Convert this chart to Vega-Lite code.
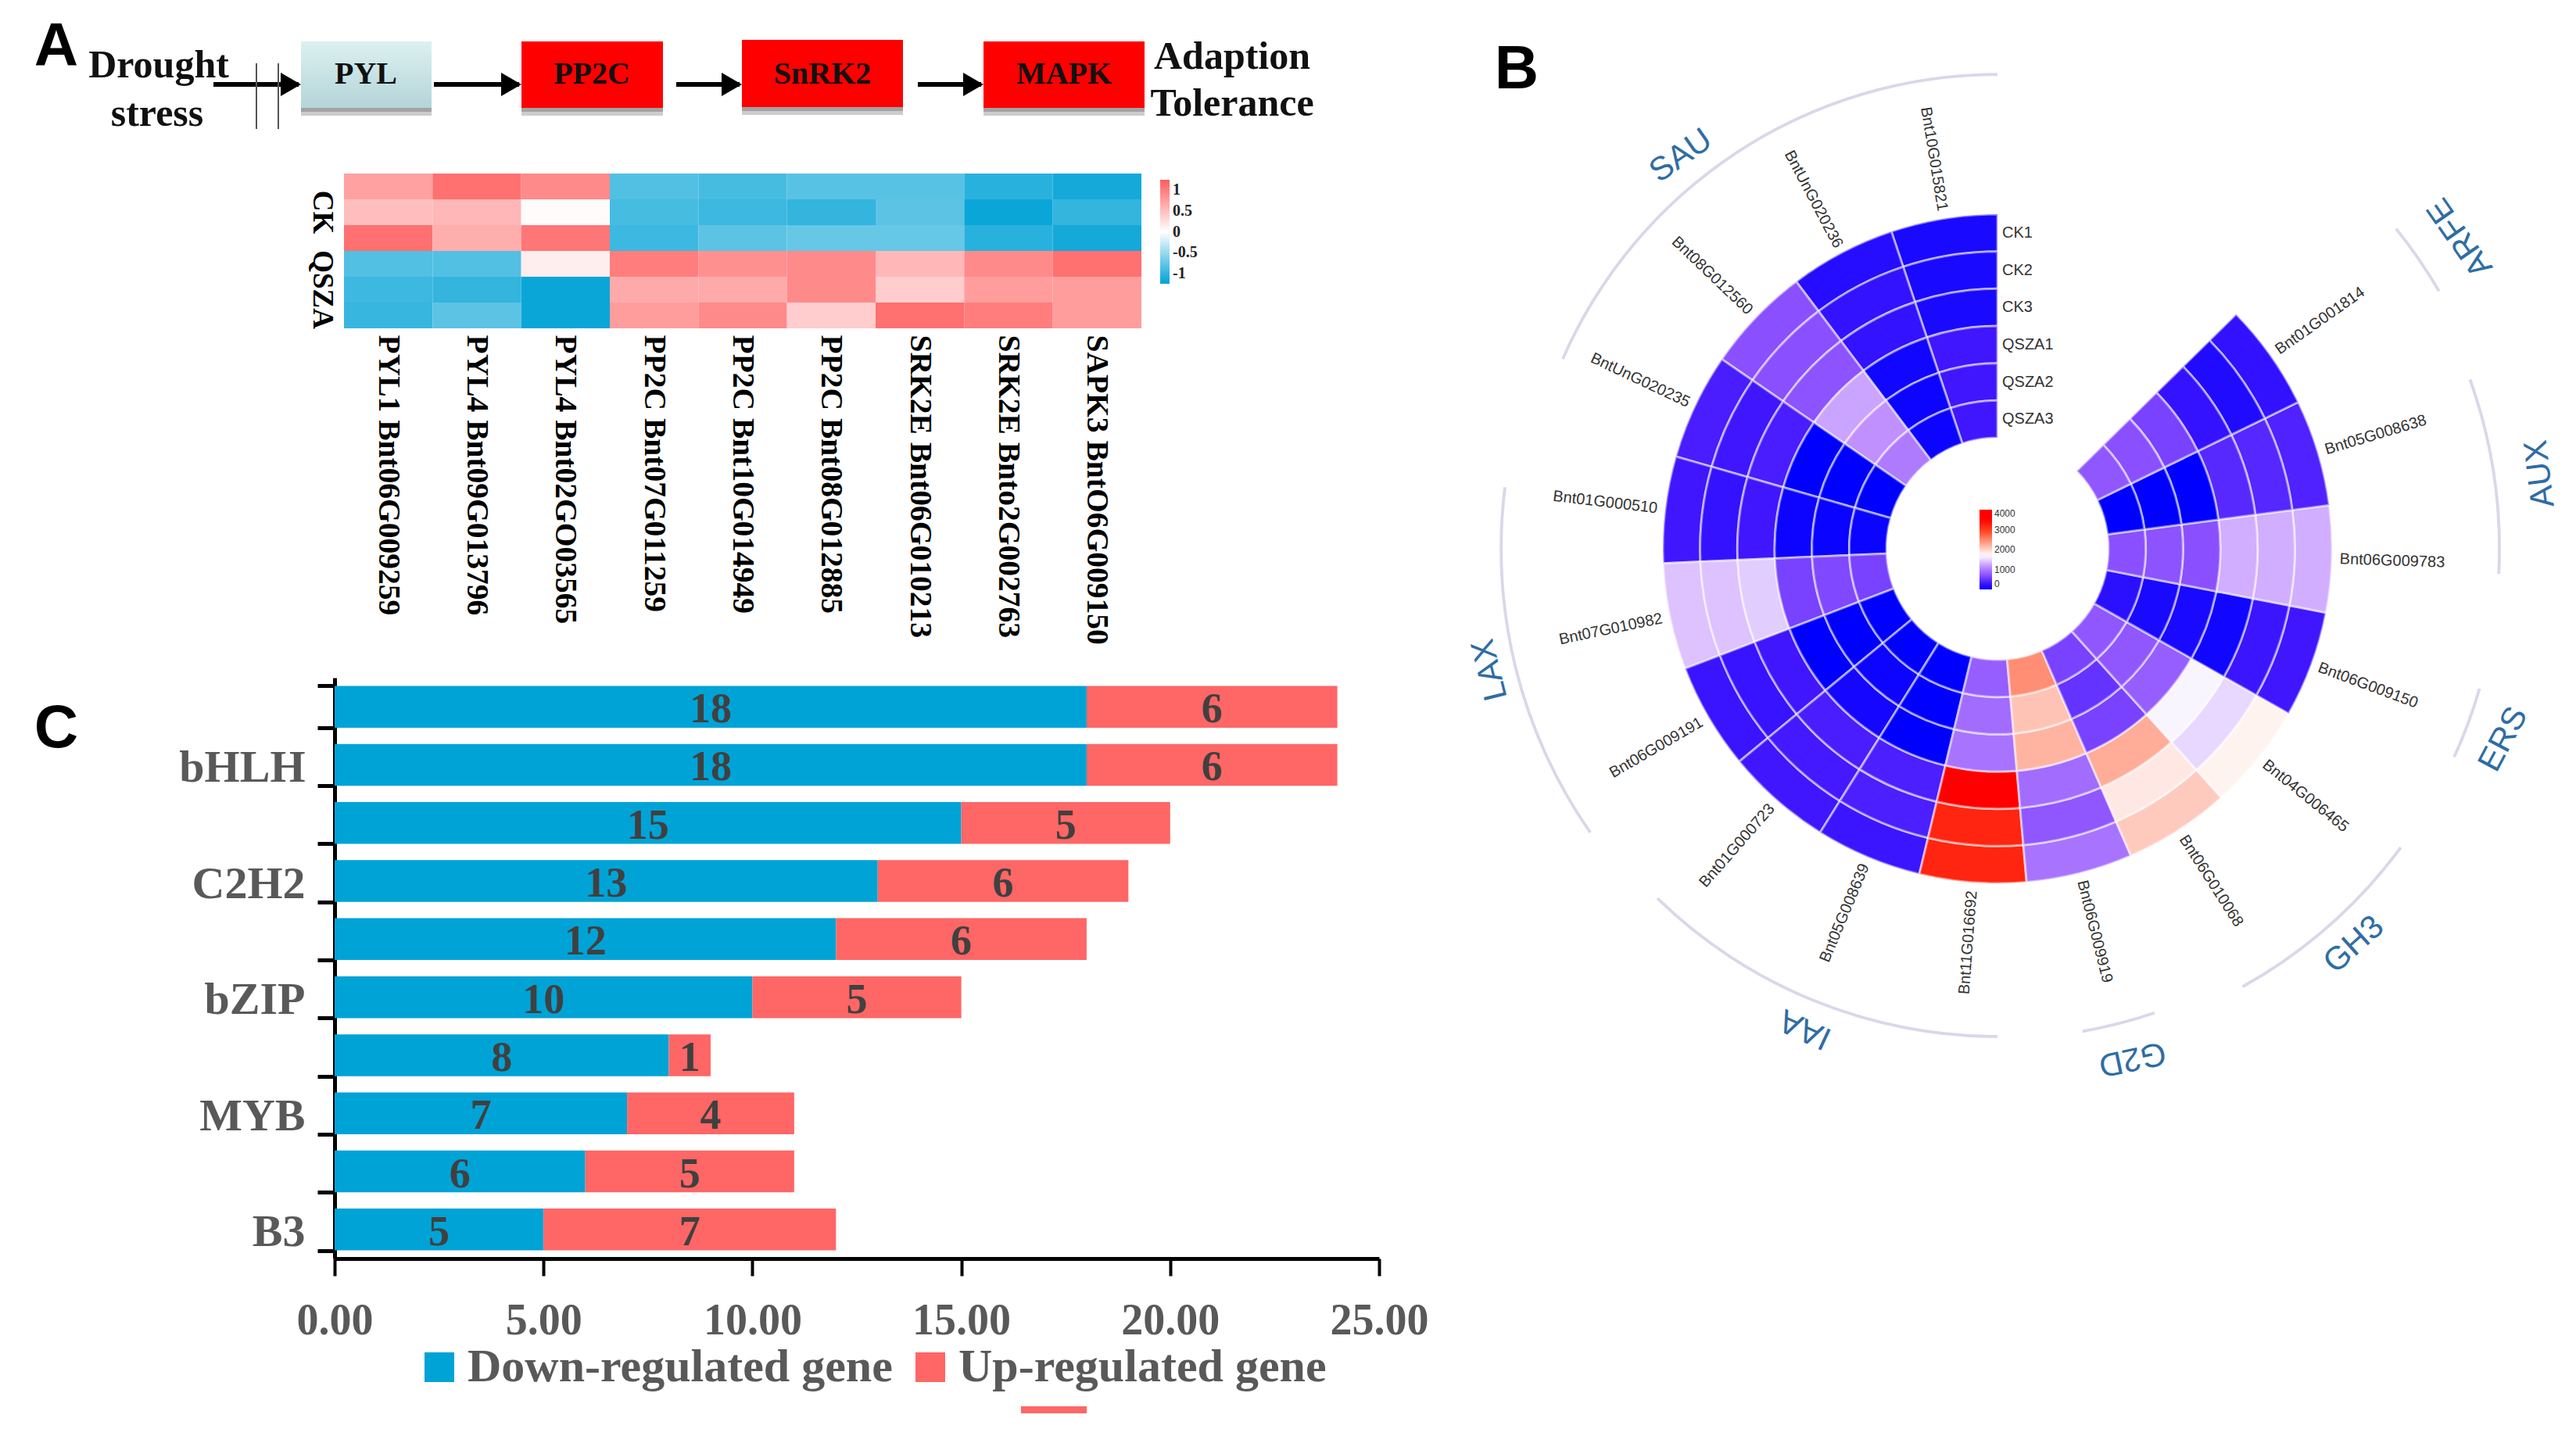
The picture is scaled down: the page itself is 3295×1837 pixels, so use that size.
{
"$schema":"https://vega.github.io/schema/vega-lite/v6.json",
"padding":0,"background":"white","bounds":"flush","spacing":1850,
"config":{"view":{"stroke":null}},
"datasets":{
"boxes":[{"box":"PYL","left":3.85,"right":5.52,"top":0.53,"bottom":1.38},{"box":"PP2C","left":6.67,"right":8.48,"top":0.53,"bottom":1.38},{"box":"SnRK2","left":9.49,"right":11.55,"top":0.51,"bottom":1.37},{"box":"MAPK","left":12.58,"right":14.64,"top":0.53,"bottom":1.38}],
"boxText":[{"t":"PYL","cx":4.68,"cy":0.95},{"t":"PP2C","cx":7.57,"cy":0.95},{"t":"SnRK2","cx":10.52,"cy":0.95},{"t":"MAPK","cx":13.61,"cy":0.95}],
"outerText":[{"t":"Drought","cx":2.03,"cy":0.84},{"t":"stress","cx":2.01,"cy":1.46},{"t":"Adaption","cx":15.76,"cy":0.73},{"t":"Tolerance","cx":15.76,"cy":1.33}],
"arrows":[{"from":2.73,"to":3.82,"level":1.08},{"from":5.55,"to":6.64,"level":1.08},{"from":8.65,"to":9.46,"level":1.08},{"from":11.74,"to":12.55,"level":1.08}],
"marks":[{"at":3.28,"top":0.81,"bottom":1.65},{"at":3.56,"top":0.81,"bottom":1.65}],
"letters":[{"t":"A","cx":0.72,"cy":0.61},{"t":"B","cx":19.4,"cy":0.9},{"t":"C","cx":0.72,"cy":9.33}],
"stray":[{"left":13.06,"right":13.9,"top":17.99,"bottom":18.08}],
"heat":[
{"gene":"PYL1 Bnt06G009259","sample":"CK1","z":0.72},{"gene":"PYL4 Bnt09G013796","sample":"CK1","z":1.1},{"gene":"PYL4 Bnt02GO03565","sample":"CK1","z":0.9},{"gene":"PP2C Bnt07G011259","sample":"CK1","z":-0.85},{"gene":"PP2C Bnt10G014949","sample":"CK1","z":-0.9},{"gene":"PP2C Bnt08G012885","sample":"CK1","z":-0.82},{"gene":"SRK2E Bnt06G010213","sample":"CK1","z":-0.82},{"gene":"SRK2E Bnto2G002763","sample":"CK1","z":-1.05},{"gene":"SAPK3 BntO6G009150","sample":"CK1","z":-1.15},
{"gene":"PYL1 Bnt06G009259","sample":"CK2","z":0.5},{"gene":"PYL4 Bnt09G013796","sample":"CK2","z":0.55},{"gene":"PYL4 Bnt02GO03565","sample":"CK2","z":0.03},{"gene":"PP2C Bnt07G011259","sample":"CK2","z":-0.9},{"gene":"PP2C Bnt10G014949","sample":"CK2","z":-0.95},{"gene":"PP2C Bnt08G012885","sample":"CK2","z":-1.0},{"gene":"SRK2E Bnt06G010213","sample":"CK2","z":-0.8},{"gene":"SRK2E Bnto2G002763","sample":"CK2","z":-1.2},{"gene":"SAPK3 BntO6G009150","sample":"CK2","z":-1.0},
{"gene":"PYL1 Bnt06G009259","sample":"CK3","z":1.1},{"gene":"PYL4 Bnt09G013796","sample":"CK3","z":0.62},{"gene":"PYL4 Bnt02GO03565","sample":"CK3","z":1.05},{"gene":"PP2C Bnt07G011259","sample":"CK3","z":-0.95},{"gene":"PP2C Bnt10G014949","sample":"CK3","z":-0.8},{"gene":"PP2C Bnt08G012885","sample":"CK3","z":-0.75},{"gene":"SRK2E Bnt06G010213","sample":"CK3","z":-0.75},{"gene":"SRK2E Bnto2G002763","sample":"CK3","z":-1.05},{"gene":"SAPK3 BntO6G009150","sample":"CK3","z":-1.15},
{"gene":"PYL1 Bnt06G009259","sample":"QSZA1","z":-0.85},{"gene":"PYL4 Bnt09G013796","sample":"QSZA1","z":-0.85},{"gene":"PYL4 Bnt02GO03565","sample":"QSZA1","z":0.13},{"gene":"PP2C Bnt07G011259","sample":"QSZA1","z":1.0},{"gene":"PP2C Bnt10G014949","sample":"QSZA1","z":0.85},{"gene":"PP2C Bnt08G012885","sample":"QSZA1","z":0.9},{"gene":"SRK2E Bnt06G010213","sample":"QSZA1","z":0.55},{"gene":"SRK2E Bnto2G002763","sample":"QSZA1","z":0.9},{"gene":"SAPK3 BntO6G009150","sample":"QSZA1","z":1.1},
{"gene":"PYL1 Bnt06G009259","sample":"QSZA2","z":-0.95},{"gene":"PYL4 Bnt09G013796","sample":"QSZA2","z":-1.0},{"gene":"PYL4 Bnt02GO03565","sample":"QSZA2","z":-1.2},{"gene":"PP2C Bnt07G011259","sample":"QSZA2","z":0.65},{"gene":"PP2C Bnt10G014949","sample":"QSZA2","z":0.65},{"gene":"PP2C Bnt08G012885","sample":"QSZA2","z":0.9},{"gene":"SRK2E Bnt06G010213","sample":"QSZA2","z":0.38},{"gene":"SRK2E Bnto2G002763","sample":"QSZA2","z":0.75},{"gene":"SAPK3 BntO6G009150","sample":"QSZA2","z":0.75},
{"gene":"PYL1 Bnt06G009259","sample":"QSZA3","z":-0.98},{"gene":"PYL4 Bnt09G013796","sample":"QSZA3","z":-0.8},{"gene":"PYL4 Bnt02GO03565","sample":"QSZA3","z":-1.2},{"gene":"PP2C Bnt07G011259","sample":"QSZA3","z":0.75},{"gene":"PP2C Bnt10G014949","sample":"QSZA3","z":0.9},{"gene":"PP2C Bnt08G012885","sample":"QSZA3","z":0.38},{"gene":"SRK2E Bnt06G010213","sample":"QSZA3","z":1.1},{"gene":"SRK2E Bnto2G002763","sample":"QSZA3","z":1.0},{"gene":"SAPK3 BntO6G009150","sample":"QSZA3","z":0.75}
],
"bars":[
{"family":"_1","regulation":"Down-regulated gene","genes":18},{"family":"_1","regulation":"Up-regulated gene","genes":6},
{"family":"bHLH","regulation":"Down-regulated gene","genes":18},{"family":"bHLH","regulation":"Up-regulated gene","genes":6},
{"family":"_3","regulation":"Down-regulated gene","genes":15},{"family":"_3","regulation":"Up-regulated gene","genes":5},
{"family":"C2H2","regulation":"Down-regulated gene","genes":13},{"family":"C2H2","regulation":"Up-regulated gene","genes":6},
{"family":"_5","regulation":"Down-regulated gene","genes":12},{"family":"_5","regulation":"Up-regulated gene","genes":6},
{"family":"bZIP","regulation":"Down-regulated gene","genes":10},{"family":"bZIP","regulation":"Up-regulated gene","genes":5},
{"family":"_7","regulation":"Down-regulated gene","genes":8},{"family":"_7","regulation":"Up-regulated gene","genes":1},
{"family":"MYB","regulation":"Down-regulated gene","genes":7},{"family":"MYB","regulation":"Up-regulated gene","genes":4},
{"family":"_9","regulation":"Down-regulated gene","genes":6},{"family":"_9","regulation":"Up-regulated gene","genes":5},
{"family":"B3","regulation":"Down-regulated gene","genes":5},{"family":"B3","regulation":"Up-regulated gene","genes":7}
],
"cells":[
{"s":0,"e":1,"r":5,"q":6,"v":120},{"s":0,"e":1,"r":4,"q":5,"v":120},{"s":0,"e":1,"r":3,"q":4,"v":120},{"s":0,"e":1,"r":2,"q":3,"v":300},{"s":0,"e":1,"r":1,"q":2,"v":300},{"s":0,"e":1,"r":0,"q":1,"v":300},
{"s":1,"e":2,"r":5,"q":6,"v":180},{"s":1,"e":2,"r":4,"q":5,"v":240},{"s":1,"e":2,"r":3,"q":4,"v":240},{"s":1,"e":2,"r":2,"q":3,"v":80},{"s":1,"e":2,"r":1,"q":2,"v":60},{"s":1,"e":2,"r":0,"q":1,"v":60},
{"s":2,"e":3,"r":5,"q":6,"v":700},{"s":2,"e":3,"r":4,"q":5,"v":700},{"s":2,"e":3,"r":3,"q":4,"v":720},{"s":2,"e":3,"r":2,"q":3,"v":1250},{"s":2,"e":3,"r":1,"q":2,"v":1150},{"s":2,"e":3,"r":0,"q":1,"v":1000},
{"s":3,"e":4,"r":5,"q":6,"v":350},{"s":3,"e":4,"r":4,"q":5,"v":300},{"s":3,"e":4,"r":3,"q":4,"v":350},{"s":3,"e":4,"r":2,"q":3,"v":0},{"s":3,"e":4,"r":1,"q":2,"v":0},{"s":3,"e":4,"r":0,"q":1,"v":0},
{"s":4,"e":5,"r":5,"q":6,"v":300},{"s":4,"e":5,"r":4,"q":5,"v":250},{"s":4,"e":5,"r":3,"q":4,"v":300},{"s":4,"e":5,"r":2,"q":3,"v":60},{"s":4,"e":5,"r":1,"q":2,"v":40},{"s":4,"e":5,"r":0,"q":1,"v":50},
{"s":5,"e":6,"r":5,"q":6,"v":1400},{"s":5,"e":6,"r":4,"q":5,"v":1400},{"s":5,"e":6,"r":3,"q":4,"v":1450},{"s":5,"e":6,"r":2,"q":3,"v":600},{"s":5,"e":6,"r":1,"q":2,"v":650},{"s":5,"e":6,"r":0,"q":1,"v":600},
{"s":6,"e":7,"r":5,"q":6,"v":270},{"s":6,"e":7,"r":4,"q":5,"v":260},{"s":6,"e":7,"r":3,"q":4,"v":300},{"s":6,"e":7,"r":2,"q":3,"v":0},{"s":6,"e":7,"r":1,"q":2,"v":0},{"s":6,"e":7,"r":0,"q":1,"v":0},
{"s":7,"e":8,"r":5,"q":6,"v":300},{"s":7,"e":8,"r":4,"q":5,"v":320},{"s":7,"e":8,"r":3,"q":4,"v":350},{"s":7,"e":8,"r":2,"q":3,"v":100},{"s":7,"e":8,"r":1,"q":2,"v":60},{"s":7,"e":8,"r":0,"q":1,"v":0},
{"s":8,"e":9,"r":5,"q":6,"v":280},{"s":8,"e":9,"r":4,"q":5,"v":360},{"s":8,"e":9,"r":3,"q":4,"v":360},{"s":8,"e":9,"r":2,"q":3,"v":0},{"s":8,"e":9,"r":1,"q":2,"v":0},{"s":8,"e":9,"r":0,"q":1,"v":0},
{"s":9,"e":10,"r":5,"q":6,"v":3200},{"s":9,"e":10,"r":4,"q":5,"v":3200},{"s":9,"e":10,"r":3,"q":4,"v":3500},{"s":9,"e":10,"r":2,"q":3,"v":950},{"s":9,"e":10,"r":1,"q":2,"v":900},{"s":9,"e":10,"r":0,"q":1,"v":800},
{"s":10,"e":11,"r":5,"q":6,"v":950},{"s":10,"e":11,"r":4,"q":5,"v":750},{"s":10,"e":11,"r":3,"q":4,"v":900},{"s":10,"e":11,"r":2,"q":3,"v":2200},{"s":10,"e":11,"r":1,"q":2,"v":2100},{"s":10,"e":11,"r":0,"q":1,"v":2450},
{"s":11,"e":12,"r":5,"q":6,"v":2050},{"s":11,"e":12,"r":4,"q":5,"v":1850},{"s":11,"e":12,"r":3,"q":4,"v":2250},{"s":11,"e":12,"r":2,"q":3,"v":600},{"s":11,"e":12,"r":1,"q":2,"v":500},{"s":11,"e":12,"r":0,"q":1,"v":600},
{"s":12,"e":13,"r":5,"q":6,"v":1780},{"s":12,"e":13,"r":4,"q":5,"v":1500},{"s":12,"e":13,"r":3,"q":4,"v":1650},{"s":12,"e":13,"r":2,"q":3,"v":800},{"s":12,"e":13,"r":1,"q":2,"v":750},{"s":12,"e":13,"r":0,"q":1,"v":750},
{"s":13,"e":14,"r":5,"q":6,"v":300},{"s":13,"e":14,"r":4,"q":5,"v":280},{"s":13,"e":14,"r":3,"q":4,"v":80},{"s":13,"e":14,"r":2,"q":3,"v":120},{"s":13,"e":14,"r":1,"q":2,"v":120},{"s":13,"e":14,"r":0,"q":1,"v":200},
{"s":14,"e":15,"r":5,"q":6,"v":1300},{"s":14,"e":15,"r":4,"q":5,"v":1300},{"s":14,"e":15,"r":3,"q":4,"v":1300},{"s":14,"e":15,"r":2,"q":3,"v":700},{"s":14,"e":15,"r":1,"q":2,"v":720},{"s":14,"e":15,"r":0,"q":1,"v":700},
{"s":15,"e":16,"r":5,"q":6,"v":380},{"s":15,"e":16,"r":4,"q":5,"v":420},{"s":15,"e":16,"r":3,"q":4,"v":430},{"s":15,"e":16,"r":2,"q":3,"v":0},{"s":15,"e":16,"r":1,"q":2,"v":0},{"s":15,"e":16,"r":0,"q":1,"v":0},
{"s":16,"e":17,"r":5,"q":6,"v":230},{"s":16,"e":17,"r":4,"q":5,"v":150},{"s":16,"e":17,"r":3,"q":4,"v":250},{"s":16,"e":17,"r":2,"q":3,"v":600},{"s":16,"e":17,"r":1,"q":2,"v":700},{"s":16,"e":17,"r":0,"q":1,"v":750}
],
"genes":[
{"gene":"Bnt10G015821","m":0.5},{"gene":"BntUnG020236","m":1.5},{"gene":"Bnt08G012560","m":2.5},{"gene":"BntUnG020235","m":3.5},{"gene":"Bnt01G000510","m":4.5},{"gene":"Bnt07G010982","m":5.5},{"gene":"Bnt06G009191","m":6.5},{"gene":"Bnt01G000723","m":7.5},{"gene":"Bnt05G008639","m":8.5},{"gene":"Bnt11G016692","m":9.5},{"gene":"Bnt06G009919","m":10.5},{"gene":"Bnt06G010068","m":11.5},{"gene":"Bnt04G006465","m":12.5},{"gene":"Bnt06G009150","m":13.5},{"gene":"Bnt06G009783","m":14.5},{"gene":"Bnt05G008638","m":15.5},{"gene":"Bnt01G001814","m":16.5}
],
"samples":[{"sample":"CK1","mid":5.5},{"sample":"CK2","mid":4.5},{"sample":"CK3","mid":3.5},{"sample":"QSZA1","mid":2.5},{"sample":"QSZA2","mid":1.5},{"sample":"QSZA3","mid":0.5}],
"families":[
{"family":"SAU","start":0,"end":3.59,"inner":9.71,"outer":9.79,"pos":2.10,"ring":10.57},
{"family":"LAX","start":4.48,"end":6.75,"inner":10.30,"outer":10.38,"pos":5.59,"ring":11.03},
{"family":"IAA","start":7.34,"end":9.73,"inner":10.07,"outer":10.15,"pos":8.55,"ring":10.91},
{"family":"G2D","start":10.27,"end":10.74,"inner":10.13,"outer":10.21,"pos":10.53,"ring":11.18},
{"family":"GH3","start":11.31,"end":12.62,"inner":10.45,"outer":10.53,"pos":12.0,"ring":11.31},
{"family":"ERS","start":13.27,"end":13.72,"inner":10.45,"outer":10.53,"pos":13.48,"ring":11.52},
{"family":"AUX","start":14.44,"end":15.66,"inner":10.45,"outer":10.53,"pos":15.02,"ring":11.71},
{"family":"ARFE","start":16.23,"end":16.69,"inner":10.70,"outer":10.78,"pos":16.43,"ring":11.98}
]
},
"hconcat":[
{"bounds":"flush","spacing":0,"vconcat":[
{"width":1850,"height":222,
 "layer":[
 {"data":{"name":"boxes"},"mark":{"type":"rect","color":"#555555","opacity":0.3,"y2Offset":10},
  "encoding":{"x":{"field":"left","type":"quantitative","scale":{"domain":[0,32.95],"range":[0,3295],"nice":false},"axis":null},"x2":{"field":"right"},"y":{"field":"top","type":"quantitative","scale":{"domain":[0,18.37],"range":[0,1837],"nice":false},"axis":null},"y2":{"field":"bottom"}}},
 {"data":{"name":"boxes"},"mark":{"type":"rect","color":"#555555","opacity":0.35,"y2Offset":5},
  "encoding":{"x":{"field":"left","type":"quantitative"},"x2":{"field":"right"},"y":{"field":"top","type":"quantitative"},"y2":{"field":"bottom"}}},
 {"data":{"name":"boxes"},"transform":[{"filter":"datum.box!='PYL'"}],"mark":{"type":"rect","color":"#ff0000"},
  "encoding":{"x":{"field":"left","type":"quantitative"},"x2":{"field":"right"},"y":{"field":"top","type":"quantitative"},"y2":{"field":"bottom"}}},
 {"data":{"name":"boxes"},"transform":[{"filter":"datum.box=='PYL'"}],"mark":{"type":"rect","color":{"gradient":"linear","x1":0,"y1":0,"x2":0,"y2":1,"stops":[{"offset":0,"color":"#dcf1f1"},{"offset":1,"color":"#b4d4d8"}]}},
  "encoding":{"x":{"field":"left","type":"quantitative"},"x2":{"field":"right"},"y":{"field":"top","type":"quantitative"},"y2":{"field":"bottom"}}},
 {"data":{"name":"boxText"},"mark":{"type":"text","font":"Liberation Serif","fontWeight":"bold","fontSize":40,"color":"#111111","baseline":"middle"},
  "encoding":{"x":{"field":"cx","type":"quantitative"},"y":{"field":"cy","type":"quantitative"},"text":{"field":"t"}}},
 {"data":{"name":"outerText"},"mark":{"type":"text","font":"Liberation Serif","fontWeight":"bold","fontSize":50,"color":"#111111","baseline":"middle"},
  "encoding":{"x":{"field":"cx","type":"quantitative"},"y":{"field":"cy","type":"quantitative"},"text":{"field":"t"}}},
 {"data":{"name":"arrows"},"mark":{"type":"rule","strokeWidth":6,"color":"#000000"},
  "encoding":{"x":{"field":"from","type":"quantitative"},"x2":{"field":"to"},"y":{"field":"level","type":"quantitative"}}},
 {"data":{"name":"arrows"},"mark":{"type":"point","shape":"triangle-right","filled":true,"size":900,"opacity":1,"color":"#000000","xOffset":-10},
  "encoding":{"x":{"field":"to","type":"quantitative"},"y":{"field":"level","type":"quantitative"}}},
 {"data":{"name":"marks"},"mark":{"type":"rule","strokeWidth":2,"color":"#555555"},
  "encoding":{"x":{"field":"at","type":"quantitative"},"y":{"field":"top","type":"quantitative"},"y2":{"field":"bottom"}}},
 {"data":{"name":"letters"},"mark":{"type":"text","font":"Liberation Sans","fontWeight":"bold","fontSize":78,"color":"#000000","baseline":"middle"},
  "encoding":{"x":{"field":"cx","type":"quantitative"},"y":{"field":"cy","type":"quantitative"},"text":{"field":"t"}}},
 {"data":{"name":"stray"},"mark":{"type":"rect","color":"#ff6666"},
  "encoding":{"x":{"field":"left","type":"quantitative"},"x2":{"field":"right"},"y":{"field":"top","type":"quantitative"},"y2":{"field":"bottom"}}}
 ]},
{"width":1850,"height":198,"data":{"name":"heat"},
 "mark":{"type":"rect"},
 "encoding":{
  "x":{"field":"gene","type":"nominal","sort":null,"scale":{"range":[440,1460]},"title":null,
   "axis":{"orient":"bottom","domain":false,"ticks":false,"labelAngle":90,"labelAlign":"left","labelBaseline":"middle","labelPadding":8,"labelFont":"Liberation Serif","labelFontWeight":"bold","labelFontSize":39.5,"labelColor":"#000000","labelLimit":600,"labelOverlap":false}},
  "y":{"field":"sample","type":"nominal","sort":null,"scale":{"range":[0,198]},"title":null,
   "axis":{"orient":"left","offset":-425,"domain":false,"ticks":false,"labelAngle":90,"labelAlign":"center","labelBaseline":"middle","labelPadding":14,"labelFont":"Liberation Serif","labelFontWeight":"bold","labelFontSize":37,"labelColor":"#000000","labelOverlap":false,"labelExpr":"datum.label=='CK2'?'CK':datum.label=='QSZA2'?'QSZA':''"}},
  "color":{"field":"z","type":"quantitative","scale":{"domain":[-1.25,0,1.25],"range":["#00a2d6","#ffffff","#ff5c5c"],"interpolate":"rgb"},
   "legend":{"orient":"none","legendX":1484,"legendY":8,"title":null,"gradientLength":133,"gradientThickness":12,"gradientStrokeWidth":0,"values":[1,0.5,0,-0.5,-1],"labelExpr":"''+datum.value","labelFont":"Liberation Serif","labelFontWeight":"bold","labelFontSize":20,"labelColor":"#222222","labelOffset":4}}
 }},
{"width":1850,"height":1190,
 "layer":[
 {"data":{"name":"bars"},"mark":{"type":"bar"},
  "encoding":{
   "x":{"field":"genes","type":"quantitative","stack":"zero","scale":{"domain":[0,25],"range":[428,1764],"nice":false},"title":null,
    "axis":{"orient":"bottom","values":[0,5,10,15,20,25],"format":".2f","grid":false,"domainWidth":5,"domainColor":"#000000","tickColor":"#000000","tickWidth":4,"tickSize":22,"labelFont":"Liberation Serif","labelFontWeight":"bold","labelFontSize":56,"labelColor":"#595959","labelPadding":30,"labelFlush":false,"labelOverlap":false}},
   "y":{"field":"family","type":"nominal","sort":null,"scale":{"type":"band","range":[447,1190],"paddingInner":0.28,"paddingOuter":0.14},"title":null,
    "axis":{"orient":"left","offset":-428,"tickBand":"extent","domainWidth":5,"domainColor":"#000000","tickColor":"#000000","tickWidth":5,"tickSize":22,"labelFont":"Liberation Serif","labelFontWeight":"bold","labelFontSize":58,"labelColor":"#595959","labelPadding":16,"labelOffset":4,"labelLimit":400,"labelOverlap":false,"labelExpr":"indexof(datum.label,'_')==0?'':datum.label"}},
   "color":{"field":"regulation","type":"nominal","scale":{"domain":["Down-regulated gene","Up-regulated gene"],"range":["#00a3d6","#ff6666"]},
    "legend":{"orient":"none","legendX":532,"legendY":1299,"columns":2,"title":null,"symbolType":"square","symbolSize":1444,"symbolStrokeWidth":0,"labelFont":"Liberation Serif","labelFontWeight":"bold","labelFontSize":60,"labelColor":"#595959","labelLimit":800,"labelOffset":6,"columnPadding":18}},
   "order":{"field":"regulation"}
  }},
 {"data":{"name":"bars"},"mark":{"type":"text","font":"Liberation Serif","fontWeight":"bold","fontSize":54,"color":"#404040","baseline":"middle","dy":4},
  "encoding":{
   "x":{"field":"genes","type":"quantitative","stack":"zero","bandPosition":0.5},
   "y":{"field":"family","type":"nominal","sort":null},
   "detail":{"field":"regulation"},
   "order":{"field":"regulation"},
   "text":{"field":"genes","type":"quantitative"}
  }}
 ]}
]},
{"width":1410,"height":1404,
 "resolve":{"scale":{"angle":"independent"}},
 "layer":[
 {"data":{"name":"cells"},"mark":{"type":"arc","stroke":"#ffffff","strokeOpacity":0.5,"strokeWidth":3},
  "encoding":{
   "theta":{"field":"s","type":"quantitative","scale":{"domain":[0,17],"range":[0,-5.489]},"stack":null},
   "theta2":{"field":"e"},
   "radius":{"field":"r","type":"quantitative","scale":{"type":"linear","domain":[0,6],"range":[142,428],"zero":false,"nice":false},"stack":null},
   "radius2":{"field":"q"},
   "color":{"field":"v","type":"quantitative","scale":{"domain":[0,300,700,1150,1700,2900,3500,4000],"range":["#0000ff","#4016ff","#8a50ff","#c090ff","#ffffff","#ff4a20","#ff0000","#ff0000"],"interpolate":"rgb"},
    "legend":{"orient":"none","legendX":2532,"legendY":652,"title":null,"gradientLength":102,"gradientThickness":16,"gradientStrokeWidth":0,"values":[0,1000,2000,3000,4000],"format":"d","labelFont":"Liberation Sans","labelFontSize":12,"labelColor":"#333333","labelOffset":3}}
  }},
 {"data":{"name":"families"},"mark":{"type":"arc","color":"#d8d8ea"},
  "encoding":{"theta":{"field":"start","type":"quantitative","stack":null},"theta2":{"field":"end"},"radius":{"field":"inner","type":"quantitative","stack":null},"radius2":{"field":"outer"}}},
 {"data":{"name":"genes"},"mark":{"type":"text","font":"Liberation Sans","fontSize":20,"color":"#333333","baseline":"middle","align":"center"},
  "encoding":{"theta":{"field":"m","type":"quantitative","stack":null},"radius":{"datum":7.62,"type":"quantitative"},"text":{"field":"gene"},
   "angle":{"field":"m","type":"quantitative","scale":{"domain":[0,9.73,9.74,19.46],"range":[90,-90,90,-90]}}}},
 {"data":{"name":"samples"},"mark":{"type":"text","font":"Liberation Sans","fontSize":20,"color":"#333333","baseline":"middle","align":"left","dx":6},
  "encoding":{"theta":{"datum":0,"type":"quantitative"},"radius":{"field":"mid","type":"quantitative"},"text":{"field":"sample"}}},
 {"data":{"name":"families"},"mark":{"type":"text","font":"Liberation Sans","fontSize":42,"color":"#2e6da4","baseline":"middle","align":"center"},
  "encoding":{"theta":{"field":"pos","type":"quantitative","stack":null},"radius":{"field":"ring","type":"quantitative"},"text":{"field":"family"},
   "angle":{"field":"pos","type":"quantitative","scale":{"domain":[2.10,5.59,8.55,10.53,12.0,13.48,15.02,16.43],"range":[-35,-104,205,168,-42,-62,-97,-125]},"legend":null}}}
 ]}
]}
